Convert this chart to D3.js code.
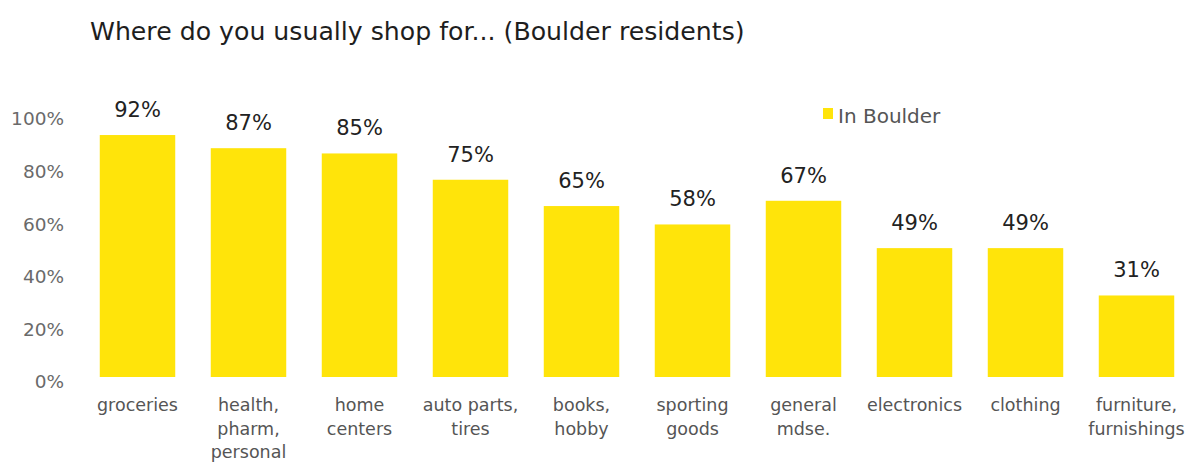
<!DOCTYPE html>
<head>
    <meta charset="utf-8">
    <style>
        body { margin: 0; background: #fff; }
        #chart text { font-family: "DejaVu Sans", sans-serif; }
    </style>
</head>
<body>
    <div id="chart"></div>
    <script src="https://d3js.org/d3.v7.min.js"></script>
    <script>
        // values
        var categories = [
            ["groceries"],
            ["health,", "pharm,", "personal"],
            ["home", "centers"],
            ["auto parts,", "tires"],
            ["books,", "hobby"],
            ["sporting", "goods"],
            ["general", "mdse."],
            ["electronics"],
            ["clothing"],
            ["furniture,", "furnishings"]
        ];
        var inBoulder = [92, 87, 85, 75, 65, 58, 67, 49, 49, 31];
        var yTicks = [0, 20, 40, 60, 80, 100];
        var title = "Where do you usually shop for... (Boulder residents)";
        var seriesName = "In Boulder";

        var width = 1190, height = 464;
        var yellow = "#ffe40a";

        var svg = d3.select("#chart").append("svg")
            .attr("width", width)
            .attr("height", height);

        var x = d3.scaleBand()
            .domain(d3.range(categories.length))
            .range([82, 1192])
            .paddingInner(0.32)
            .paddingOuter(0.16);

        var y = d3.scaleLinear()
            .domain([0, 100])
            .range([377, 114]);

        // title
        svg.append("text")
            .attr("x", 90)
            .attr("y", 40)
            .attr("font-size", "25.2px")
            .attr("fill", "#1e1e1e")
            .text(title);

        // y axis labels (no line, no gridlines)
        var yAxis = svg.append("g")
            .attr("transform", "translate(64,5)")
            .call(d3.axisLeft(y).tickValues(yTicks).tickSize(0).tickPadding(0)
                .tickFormat(function(d) { return d + "%"; }));
        yAxis.select(".domain").remove();
        yAxis.selectAll("text")
            .attr("font-size", "18.5px")
            .attr("fill", "#6a6a6a");

        // bars
        svg.selectAll(".bar")
            .data(inBoulder)
            .enter().append("rect")
            .attr("class", "bar")
            .attr("x", function(d, i) { return x(i); })
            .attr("y", function(d) { return y(d); })
            .attr("width", x.bandwidth())
            .attr("height", function(d) { return y(0) - y(d); })
            .attr("fill", yellow);

        // value labels
        svg.selectAll(".val")
            .data(inBoulder)
            .enter().append("text")
            .attr("class", "val")
            .attr("x", function(d, i) { return x(i) + x.bandwidth() / 2; })
            .attr("y", function(d) { return y(d) - 18; })
            .attr("text-anchor", "middle")
            .attr("font-size", "21px")
            .attr("fill", "#222")
            .text(function(d) { return d + "%"; });

        // category labels
        var cat = svg.selectAll(".cat")
            .data(categories)
            .enter().append("text")
            .attr("class", "cat")
            .attr("text-anchor", "middle")
            .attr("font-size", "17.5px")
            .attr("fill", "#555");
        cat.selectAll("tspan")
            .data(function(d, i) { return d.map(function(t) { return {t: t, i: i}; }); })
            .enter().append("tspan")
            .attr("x", function(d) { return x(d.i) + x.bandwidth() / 2; })
            .attr("y", function(d, j) { return 411 + j * 23.5; })
            .text(function(d) { return d.t; });

        // legend
        var legend = svg.append("g").attr("transform", "translate(823,108)");
        legend.append("rect")
            .attr("width", 10).attr("height", 11)
            .attr("fill", yellow);
        legend.append("text")
            .attr("x", 15).attr("y", 15)
            .attr("font-size", "20px")
            .attr("fill", "#555")
            .text(seriesName);
    </script>
</body>
